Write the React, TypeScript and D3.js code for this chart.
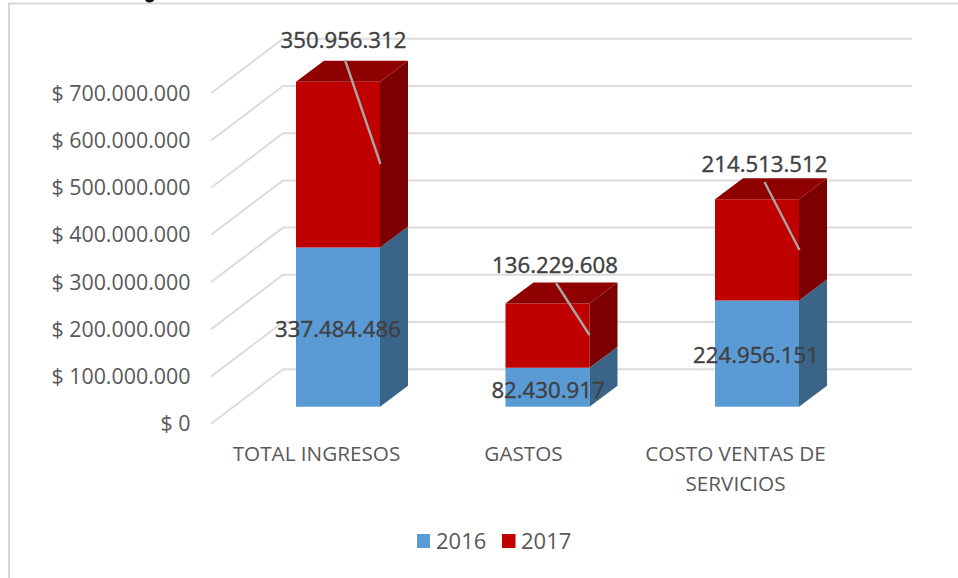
import React from "react";
import * as d3 from "d3";

const categories = ["TOTAL INGRESOS", "GASTOS", "COSTO VENTAS DE|SERVICIOS"];
const values2016 = [337484486, 82430917, 224956151];
const values2017 = [350956312, 136229608, 214513512];
const ticks = [0, 100000000, 200000000, 300000000, 400000000, 500000000, 600000000, 700000000];
const seriesNames = ["2016", "2017"];

const FONT = "'Open Sans', sans-serif";
const W = 958, H = 578;
const fmt = (v: number) => d3.format(",")(v).replace(/,/g, ".");

export default function App() {
  const yFront = d3.scaleLinear().domain([0, 700000000]).range([423.7, 93.3]);
  const barY = d3.scaleLinear().domain([0, 700000000]).range([406.7, 76.3]);
  const bx = d3.scalePoint().domain(categories).range([296, 715]);
  const bw = 84, dx = 28, dy = 21;
  const gdx = 72, gdy = 54.5;
  const lbl2017 = [
    { tx: 343.5, ty: 40, x1: 345, y1: 60, x2: 380.5, y2: 164 },
    { tx: 555, ty: 265, x1: 556, y1: 283, x2: 589.5, y2: 335 },
    { tx: 764.5, ty: 164, x1: 764.5, y1: 182, x2: 799.5, y2: 250 },
  ];
  const lbl2016 = [
    { tx: 338, ty: 328.5 },
    { tx: 548, ty: 389.5 },
    { tx: 756, ty: 354.5 },
  ];
  const catX = [316.5, 523.5, 735.5];

  return (
    <svg width={W} height={H} style={{ position: "absolute", left: 0, top: 0, background: "#fff" }} fontFamily={FONT}>
      <rect x={0} y={0} width={W} height={H} fill="#fff" />
      <path d="M145,0H154.5Q152,3 149,3Q147,3 145,0Z" fill="#111" />
      <path d={`M9,${H}V3.5H${W}`} fill="none" stroke="#d9d9d9" strokeWidth={2} />
      {ticks.map((t) => {
        const yf = yFront(t);
        const yb = yf - gdy;
        return (
          <g key={t}>
            <path d={`M211,${yf}L${211 + gdx},${yb}H912`} fill="none" stroke="#dcdcdc" strokeWidth={2} />
            <text x={190.5} y={yf + 7.5} textAnchor="end" fontSize={21.4} fill="#595959">
              {"$ " + fmt(t)}
            </text>
          </g>
        );
      })}
      {categories.map((c, i) => {
        const l = bx(c)!;
        const base = barY(0);
        const m = barY(values2016[i]);
        const t = barY(values2016[i] + values2017[i]);
        return (
          <g key={c}>
            <polygon points={`${l},${base} ${l + bw},${base} ${l + bw},${m} ${l},${m}`} fill="#5b9bd5" />
            <polygon points={`${l + bw},${base} ${l + bw + dx},${base - dy} ${l + bw + dx},${m - dy} ${l + bw},${m}`} fill="#3a6488" />
            <polygon points={`${l},${m} ${l + bw},${m} ${l + bw},${t} ${l},${t}`} fill="#c00000" />
            <polygon points={`${l + bw},${m} ${l + bw + dx},${m - dy} ${l + bw + dx},${t - dy} ${l + bw},${t}`} fill="#7c0000" />
            <polygon points={`${l},${t} ${l + bw},${t} ${l + bw + dx},${t - dy} ${l + dx},${t - dy}`} fill="#8f0000" />
          </g>
        );
      })}
      {categories.map((c, i) => {
        const parts = c.split("|");
        return (
          <text key={c} textAnchor="middle" fontSize={20.7} fill="#595959">
            {parts.map((p, j) => (
              <tspan key={p} x={catX[i]} y={460.5 + j * 30}>
                {p}
              </tspan>
            ))}
          </text>
        );
      })}
      {lbl2017.map((d, i) => (
        <g key={i}>
          <line x1={d.x1} y1={d.y1} x2={d.x2} y2={d.y2} stroke="#a6a6a6" strokeWidth={2.4} />
          <text x={d.tx} y={d.ty + 8} textAnchor="middle" fontSize={22.2} stroke="#404040" strokeWidth={0.4} fill="#404040">
            {fmt(values2017[i])}
          </text>
        </g>
      ))}
      {lbl2016.map((d, i) => (
        <text key={i} x={d.tx} y={d.ty + 8} textAnchor="middle" fontSize={22.2} stroke="#404040" strokeWidth={0.4} fill="#404040">
          {fmt(values2016[i])}
        </text>
      ))}
      <rect x={417} y={534} width={13} height={14} fill="#5b9bd5" />
      <text x={436} y={548.5} fontSize={22} fill="#595959">{seriesNames[0]}</text>
      <rect x={502} y={534} width={13.5} height={14} fill="#c00000" />
      <text x={521} y={548.5} fontSize={22} fill="#595959">{seriesNames[1]}</text>
    </svg>
  );
}
